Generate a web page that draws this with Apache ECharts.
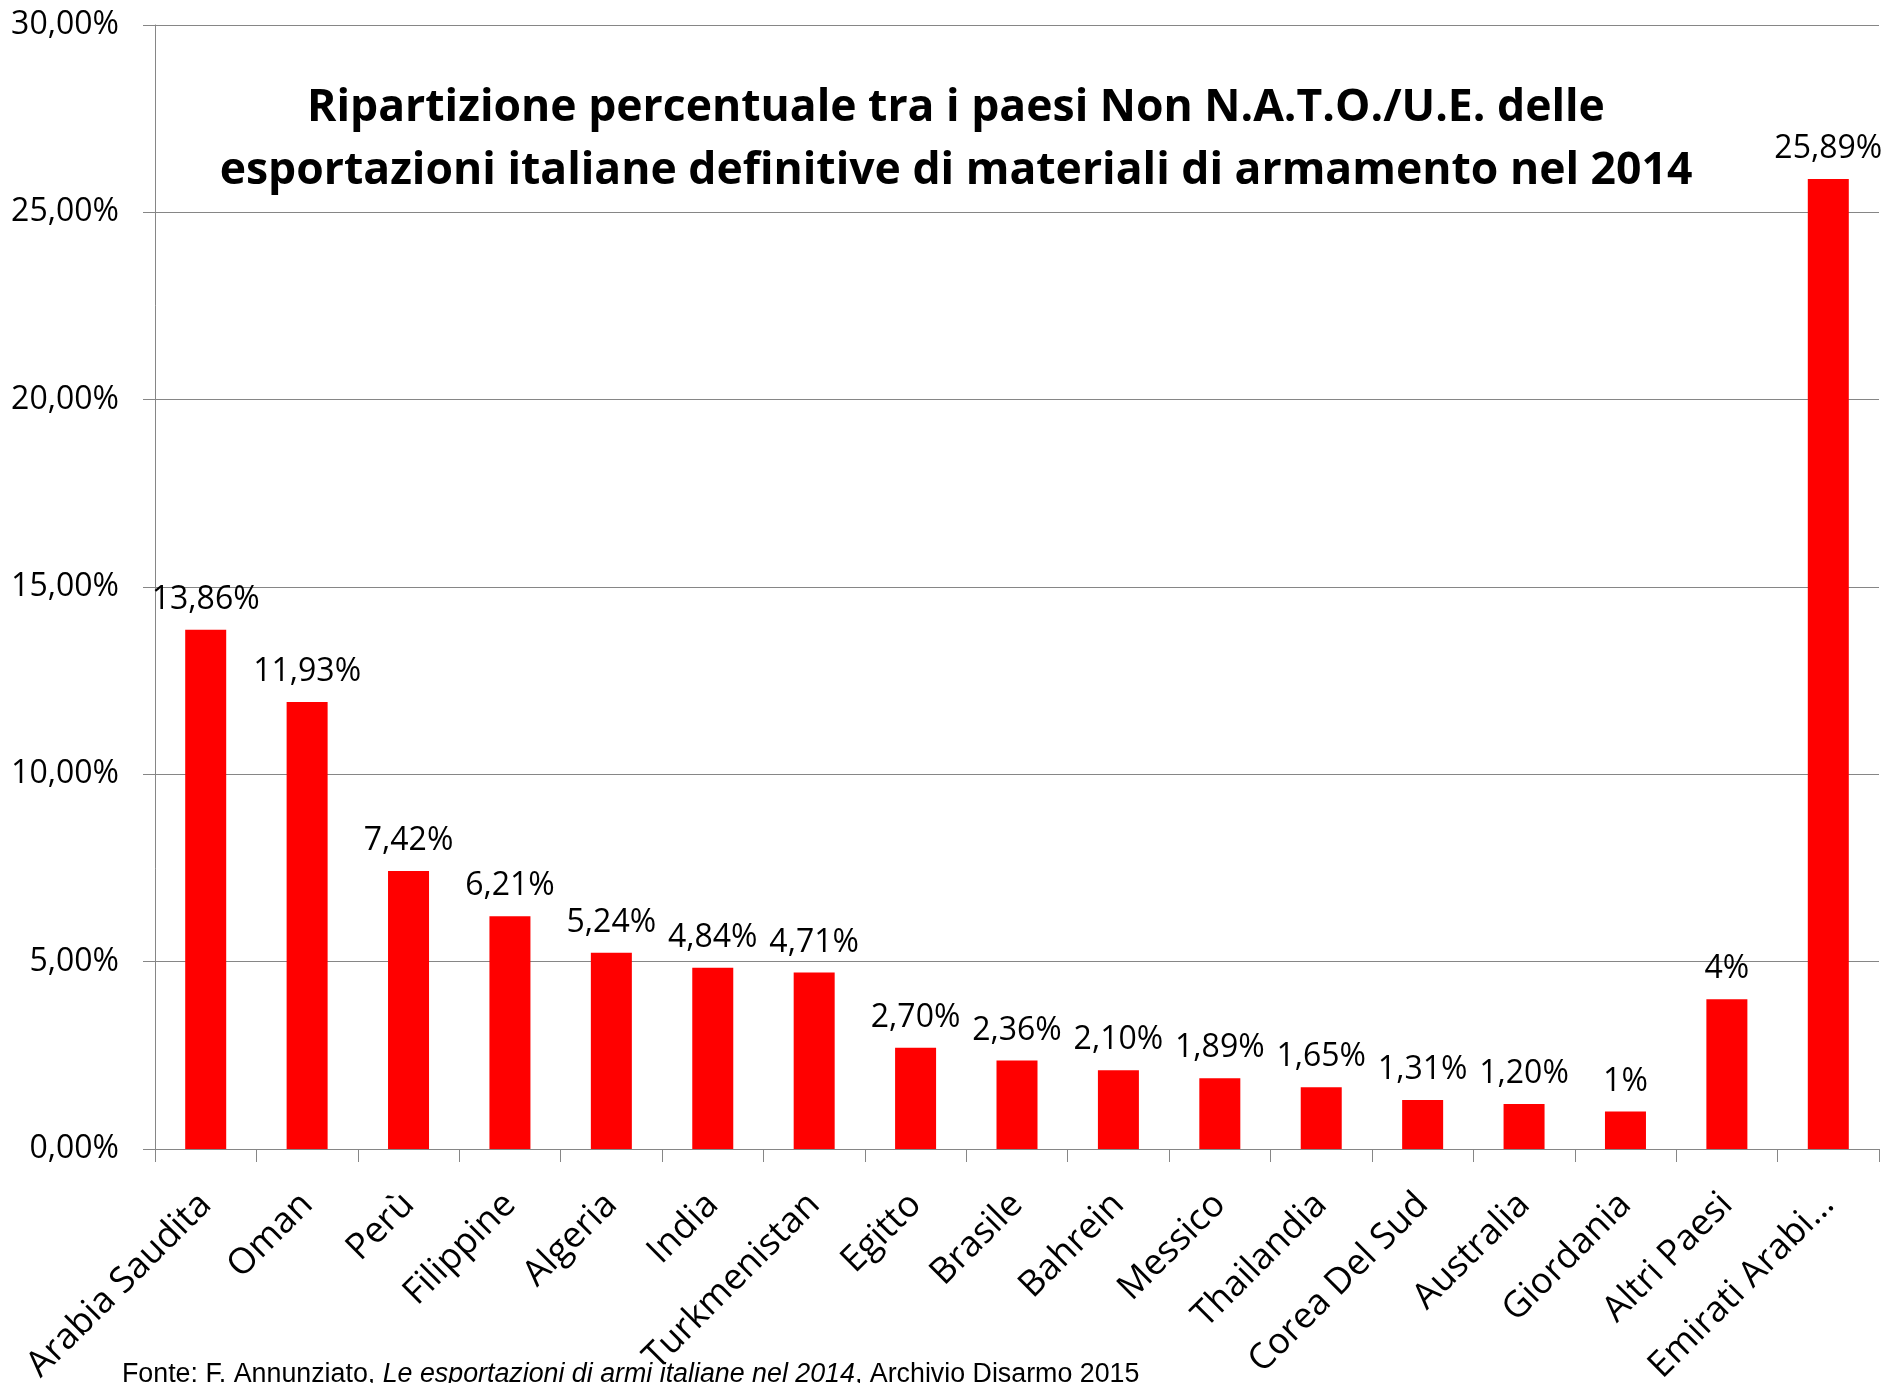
<!DOCTYPE html>
<html>
<head>
<meta charset="utf-8">
<script src="https://cdn.jsdelivr.net/npm/echarts@6/dist/echarts.min.js"></script>
<style>
  html, body { margin: 0; padding: 0; background: #fff; }
  #chart { width: 1889px; height: 1383px; }
</style>
</head>
<body>
<div id="chart"></div>
<script>
// paesi (etichette asse x)
const categories = ['Arabia Saudita', 'Oman', 'Perù', 'Filippine', 'Algeria', 'India', 'Turkmenistan', 'Egitto', 'Brasile', 'Bahrein', 'Messico', 'Thailandia', 'Corea Del Sud', 'Australia', 'Giordania', 'Altri Paesi', 'Emirati Arabi…'];
// quota percentuale
const values = [13.86, 11.93, 7.42, 6.21, 5.24, 4.84, 4.71, 2.70, 2.36, 2.10, 1.89, 1.65, 1.31, 1.20, 1.00, 4.00, 25.89];
// etichette sopra le barre (come nel grafico originale)
const valueLabels = ['13,86%', '11,93%', '7,42%', '6,21%', '5,24%', '4,84%', '4,71%', '2,70%', '2,36%', '2,10%', '1,89%', '1,65%', '1,31%', '1,20%', '1%', '4%', '25,89%'];
// asse y
const yMin = 0;
const yMax = 30;
const yStep = 5;

const titleLines = [
  'Ripartizione percentuale tra i paesi Non N.A.T.O./U.E. delle',
  'esportazioni italiane definitive di materiali di armamento nel 2014',
];

const FONT = '"Open Sans", "Noto Sans", sans-serif';
const GRAY = '#868686';

const chart = echarts.init(document.getElementById('chart'));

const option = {
  animation: false,
  backgroundColor: '#fff',
  title: {
    text: titleLines.join('\n'),
    left: 956,
    top: 77,
    padding: 0,
    textAlign: 'center',
    textStyle: {
      fontFamily: FONT,
      fontWeight: 'bold',
      fontSize: 44.5,
      lineHeight: 63,
      color: '#000',
    },
  },
  grid: {
    left: 155,
    right: 10,
    top: 25,
    bottom: 234,
    // niente ridimensionamento automatico per le etichette ruotate
    outerBoundsMode: 'none',
  },
  xAxis: {
    type: 'category',
    data: categories,
    axisLine: { lineStyle: { color: GRAY, width: 1 } },
    axisTick: { show: true, length: 13, lineStyle: { color: GRAY } },
    axisLabel: {
      interval: 0,
      rotate: 45,
      margin: 50,
      color: '#000',
      fontFamily: FONT,
      fontSize: 36,
    },
  },
  yAxis: {
    type: 'value',
    min: yMin,
    max: yMax,
    interval: yStep,
    axisLine: { show: true, lineStyle: { color: GRAY, width: 1 } },
    axisTick: { show: true, length: 12, lineStyle: { color: GRAY } },
    splitLine: { lineStyle: { color: GRAY, width: 1 } },
    axisLabel: {
      margin: 36,
      color: '#000',
      fontFamily: FONT,
      fontSize: 32,
      formatter: v => v.toFixed(2).replace('.', ',') + '%',
    },
  },
  series: [
    {
      type: 'bar',
      data: values,
      barWidth: 41,
      itemStyle: { color: '#ff0000' },
      label: {
        show: true,
        position: 'top',
        distance: 14,
        color: '#000',
        fontFamily: FONT,
        fontSize: 32,
        formatter: p => valueLabels[p.dataIndex],
      },
    },
  ],
  // fonte in basso (tagliata dal bordo come nell'originale)
  graphic: [
    {
      type: 'text',
      left: 122,
      top: 1361,
      style: {
        text: '{a|Fonte: F. Annunziato, }{i|Le esportazioni di armi italiane nel 2014}{a|, Archivio Disarmo 2015}',
        rich: {
          a: { fontFamily: '"Liberation Sans", Arial, sans-serif', fontSize: 26.8, fill: '#000' },
          i: { fontFamily: '"Liberation Sans", Arial, sans-serif', fontSize: 26.8, fontStyle: 'italic', fill: '#000' },
        },
      },
    },
  ],
};

chart.setOption(option);
window.addEventListener('resize', () => chart.resize());
</script>
</body>
</html>
